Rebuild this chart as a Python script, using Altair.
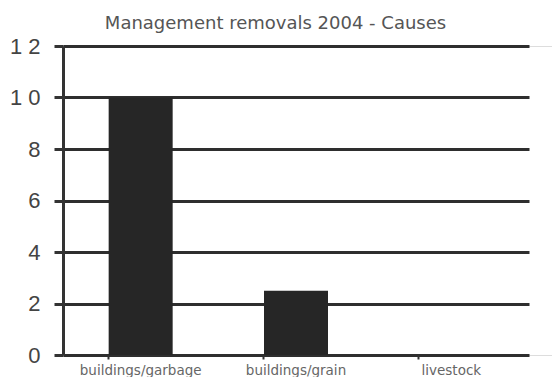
import altair as alt
import pandas as pd

categories = ["buildings/garbage", "buildings/grain", "livestock"]
values = [10, 2.5, 0]
y_ticks = [0, 2, 4, 6, 8, 10, 12]

df = pd.DataFrame({"cause": categories, "count": values})

bars = alt.Chart(df).mark_bar(color="#262626", size=64).encode(
    x=alt.X("cause:N", sort=categories, title=None,
            scale=alt.Scale(paddingInner=0.58, paddingOuter=0.29, range=[0, 466]),
            axis=alt.Axis(labelAngle=0, labelFontSize=13.5, labelColor="#666",
                          labelFont="DejaVu Sans", labelPadding=4,
                          domain=False, ticks=True, tickColor="#333",
                          tickSize=4, tickWidth=2, bandPosition=0,
                          grid=False)),
    y=alt.Y("count:Q", title=None,
            scale=alt.Scale(domain=[0, 12], nice=False),
            axis=alt.Axis(values=y_ticks, labelFontSize=22, labelColor="#444",
                          labelFont="Liberation Sans", labelPadding=14,
                          labelExpr="datum.value >= 10 ? slice(datum.label,0,1) + ' ' + slice(datum.label,1) : datum.label",
                          tickSize=9, tickWidth=3, tickColor="#333",
                          domainColor="#333", domainWidth=3,
                          grid=True, gridColor="#2e2e2e", gridWidth=3)),
)

chart = bars.properties(
    width=489,
    height=309,
    title=alt.TitleParams("Management removals 2004 - Causes", fontSize=18,
                          font="DejaVu Sans", fontWeight="normal",
                          color="#555", anchor="middle", dx=-32, offset=2),
    padding={"left": 63, "top": 46, "right": 0, "bottom": 22},
    autosize=alt.AutoSizeParams(type="none"),
).configure_view(stroke=None).configure(background="white")

chart.save("out.html", embed_options={"renderer": "svg", "actions": False})
